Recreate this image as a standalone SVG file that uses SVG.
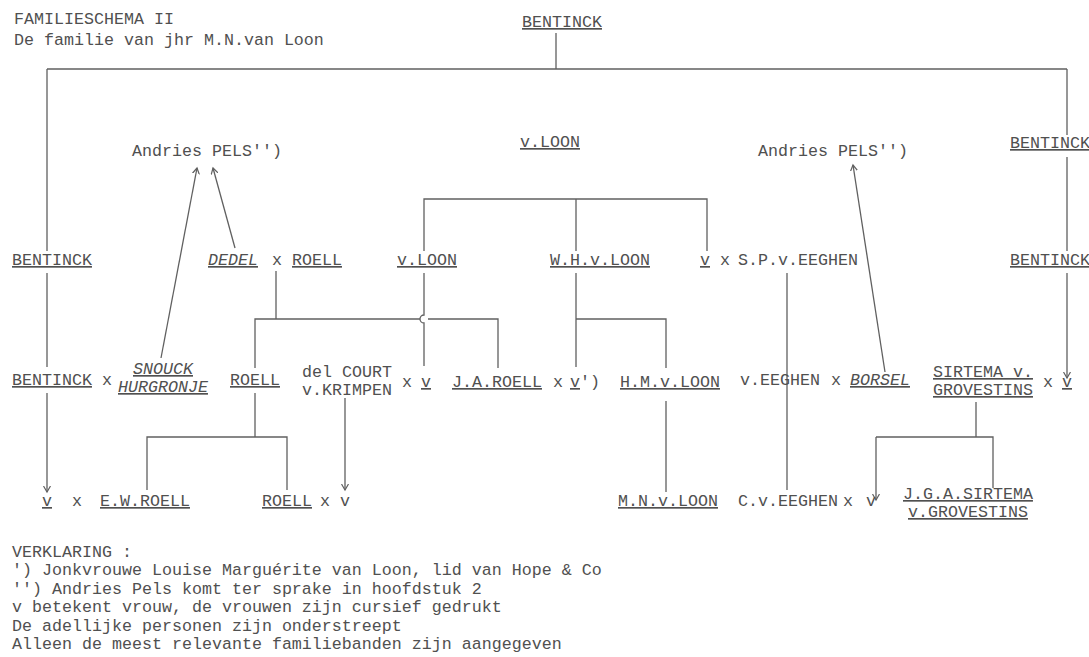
<svg xmlns="http://www.w3.org/2000/svg" width="1089" height="657" viewBox="0 0 1089 657">
<style>
text{font-family:"Liberation Mono","DejaVu Sans Mono",monospace;font-size:16.67px;fill:#505050}
.u{text-decoration:underline}
.i{font-style:italic}
.c{fill:none;stroke:#606060;stroke-width:1.3}
</style>
<defs>
<marker id="ah" markerWidth="8" markerHeight="8" refX="6" refY="4" orient="auto" markerUnits="userSpaceOnUse">
<path d="M0,0.5 L6,4 L0,7.5" fill="none" stroke="#606060" stroke-width="1.2"/>
</marker>
</defs>
<rect width="1089" height="657" fill="#fff"/>
<g id="title">
<text x="14" y="24">FAMILIESCHEMA II</text>
<text x="14" y="45">De familie van jhr M.N.van Loon</text>
</g>
<g id="connectors">
<path class="c" d="M556,33 V69 M47,69 H1067"/>
<path class="c" d="M47,69 V251 M47,273 V367"/>
<path class="c" d="M47,393 V492" marker-end="url(#ah)"/>
<path class="c" d="M1067,69 V135 M1067,157 V251"/>
<path class="c" d="M1067,273 V378" marker-end="url(#ah)"/>
<path class="c" d="M161,358 L197,168" marker-end="url(#ah)"/>
<path class="c" d="M235,248 L213,168" marker-end="url(#ah)"/>
<path class="c" d="M885,372 L853,165" marker-end="url(#ah)"/>
<path class="c" d="M424,251 V199 H707 V251 M576,199 V251"/>
<path class="c" d="M424,273 V315 a4,4 0 0 0 0,8 V366"/>
<path class="c" d="M276,271 V319 M255,368 V319 H420 M428,319 H498 V368"/>
<path class="c" d="M255,393 V437 M147,490 V437 H287 V490"/>
<path class="c" d="M345,398 V490" marker-end="url(#ah)"/>
<path class="c" d="M576,273 V367 M576,319 H666 V368 M666,401 V492"/>
<path class="c" d="M787,273 V490"/>
<path class="c" d="M976,402 V437 M993,488 V437 H876"/>
<path class="c" d="M876,437 V500" marker-end="url(#ah)"/>
</g>
<g id="n-bentinck-top"><text x="522" y="27" class="u">BENTINCK</text></g>
<g id="n-pels-left"><text x="132" y="156">Andries PELS'')</text></g>
<g id="n-vloon-top"><text x="520" y="147" class="u">v.LOON</text></g>
<g id="n-pels-right"><text x="758" y="156">Andries PELS'')</text></g>
<g id="n-bentinck-r1"><text x="1010" y="148" class="u">BENTINCK</text></g>
<g id="n-bentinck-l2"><text x="12" y="265" class="u">BENTINCK</text></g>
<g id="n-dedel-roell"><text x="208" y="265" class="u i">DEDEL</text><text x="272" y="265">x</text><text x="292" y="265" class="u">ROELL</text></g>
<g id="n-vloon-2"><text x="397" y="265" class="u">v.LOON</text></g>
<g id="n-whvloon"><text x="550" y="265" class="u">W.H.v.LOON</text></g>
<g id="n-v-eeghen"><text x="700" y="265" class="u">v</text><text x="720" y="265">x</text><text x="738" y="265">S.P.v.EEGHEN</text></g>
<g id="n-bentinck-r2"><text x="1010" y="265" class="u">BENTINCK</text></g>
<g id="n-bentinck-snouck"><text x="12" y="385" class="u">BENTINCK</text><text x="102" y="385">x</text><text x="133" y="374" class="u i">SNOUCK</text><text x="118" y="392" class="u i">HURGRONJE</text></g>
<g id="n-roell-3"><text x="230" y="385" class="u">ROELL</text></g>
<g id="n-delcourt"><text x="302" y="377">del COURT</text><text x="302" y="395">v.KRIMPEN</text><text x="402" y="387">x</text><text x="421" y="387" class="u">v</text></g>
<g id="n-jaroell"><text x="452" y="387" class="u">J.A.ROELL</text><text x="553" y="387">x</text><text x="570" y="387"><tspan class="u">v</tspan>')</text></g>
<g id="n-hmvloon"><text x="620" y="387" class="u">H.M.v.LOON</text></g>
<g id="n-veeghen-borsel"><text x="740" y="385">v.EEGHEN</text><text x="831" y="385">x</text><text x="850" y="385" class="u i">BORSEL</text></g>
<g id="n-sirtema"><text x="933" y="377" class="u">SIRTEMA v.</text><text x="933" y="395" class="u">GROVESTINS</text><text x="1043" y="387">x</text><text x="1062" y="387" class="u">v</text></g>
<g id="n-v-ewroell"><text x="42" y="506" class="u">v</text><text x="72" y="506">x</text><text x="100" y="506" class="u">E.W.ROELL</text></g>
<g id="n-roell-v"><text x="262" y="506" class="u">ROELL</text><text x="320" y="506">x</text><text x="340" y="506">v</text></g>
<g id="n-mnvloon"><text x="618" y="506" class="u">M.N.v.LOON</text></g>
<g id="n-cveeghen"><text x="738" y="506">C.v.EEGHEN</text><text x="843" y="506">x</text><text x="866" y="506">v</text></g>
<g id="n-jgasirtema"><text x="903" y="499" class="u">J.G.A.SIRTEMA</text><text x="908" y="517" class="u">v.GROVESTINS</text></g>
<g id="legend">
<text x="12" y="557">VERKLARING :</text>
<text x="12" y="575">') Jonkvrouwe Louise Marguérite van Loon, lid van Hope &amp; Co</text>
<text x="12" y="594">'') Andries Pels komt ter sprake in hoofdstuk 2</text>
<text x="12" y="612">v betekent vrouw, de vrouwen zijn cursief gedrukt</text>
<text x="12" y="631">De adellijke personen zijn onderstreept</text>
<text x="12" y="649">Alleen de meest relevante familiebanden zijn aangegeven</text>
</g>
</svg>
